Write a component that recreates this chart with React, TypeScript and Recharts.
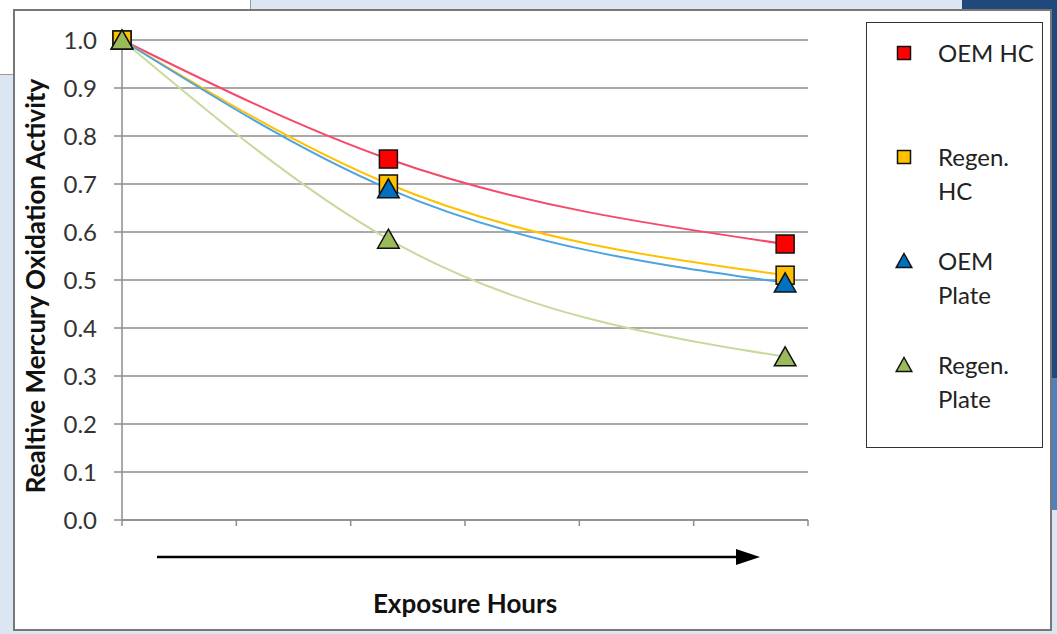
import React from 'react';
import { ComposedChart, Line, Scatter, XAxis, YAxis, CartesianGrid, Legend } from 'recharts';

// exposure hours (relative positions on the unlabeled axis)
const hours = [0, 2.33, 5.8];

const oemHc = [1.0, 0.752, 0.575];
const regenHc = [1.0, 0.7, 0.51];
const oemPlate = [1.0, 0.69, 0.494];
const regenPlate = [1.0, 0.585, 0.34];

const yTicks = [0, 0.1, 0.2, 0.3, 0.4, 0.5, 0.6, 0.7, 0.8, 0.9, 1.0];
const xTicks = [0, 1, 2, 3, 4, 5, 6];

const series = [
  { key: 'oemHc', name: 'OEM HC', fill: '#ff0000', line: '#f5496a', shape: 'square' },
  { key: 'regenHc', name: 'Regen. HC', fill: '#ffc000', line: '#ffc000', shape: 'square' },
  { key: 'oemPlate', name: 'OEM Plate', fill: '#0070c0', line: '#4ba3e3', shape: 'triangle' },
  { key: 'regenPlate', name: 'Regen. Plate', fill: '#9bbb59', line: '#c7da9e', shape: 'triangle' },
];

const data = hours.map((h, i) => ({
  hours: h,
  oemHc: oemHc[i],
  regenHc: regenHc[i],
  oemPlate: oemPlate[i],
  regenPlate: regenPlate[i],
}));

const FONT = 'Lato, "Open Sans", sans-serif';

function Marker({ cx, cy, fill, shape, size = 18 }: any) {
  if (cx == null || cy == null) return null;
  if (shape === 'square') {
    const h = size / 2;
    return <rect x={cx - h} y={cy - h} width={size} height={size} fill={fill} stroke="#111" strokeWidth={1.5} />;
  }
  const w = size * 1.2;
  const ht = size;
  return (
    <polygon
      points={`${cx},${cy - ht / 2 - 1} ${cx + w / 2},${cy + ht / 2} ${cx - w / 2},${cy + ht / 2}`}
      fill={fill}
      stroke="#111"
      strokeWidth={1.5}
      strokeLinejoin="miter"
    />
  );
}

function YLabel({ viewBox }: any) {
  const cx = viewBox.x - 27;
  const cy = viewBox.y + viewBox.height / 2 + 6;
  return (
    <text
      x={cx}
      y={cy}
      transform={`rotate(-90, ${cx}, ${cy})`}
      textAnchor="middle"
      dominantBaseline="central"
      fontFamily={FONT}
      fontWeight="bold"
      fontSize={26}
      fill="#111"
    >
      Realtive Mercury Oxidation Activity
    </text>
  );
}

function XLabel({ viewBox }: any) {
  const y0 = viewBox.y;
  const ay = y0 + 37;
  const x1 = viewBox.x + 35;
  const x2 = viewBox.x + 638;
  return (
    <g>
      <line x1={x1} y1={ay} x2={x2 - 20} y2={ay} stroke="#000" strokeWidth={2.5} />
      <polygon points={`${x2},${ay} ${x2 - 24},${ay - 8} ${x2 - 24},${ay + 8}`} fill="#000" />
      <text
        x={viewBox.x + viewBox.width / 2}
        y={y0 + 83}
        textAnchor="middle"
        dominantBaseline="central"
        fontFamily={FONT}
        fontWeight="bold"
        fontSize={26}
        fill="#111"
      >
        Exposure Hours
      </text>
    </g>
  );
}

function LegendBox() {
  return (
    <div
      style={{
        position: 'relative',
        width: 177,
        height: 426,
        boxSizing: 'border-box',
        border: '1.5px solid #333',
        background: '#fff',
        fontFamily: FONT,
        fontSize: 24,
        color: '#222',
      }}
    >
      {series.map((s, i) => (
        <div key={s.key} style={{ position: 'absolute', left: 0, top: 13 + i * 104, width: '100%' }}>
          <svg width={30} height={30} style={{ position: 'absolute', left: 22, top: 2 }}>
            <Marker cx={15} cy={15} fill={s.fill} shape={s.shape} size={13} />
          </svg>
          <div style={{ position: 'absolute', left: 71, top: 0, width: 100, lineHeight: '34px' }}>{s.name}</div>
        </div>
      ))}
    </div>
  );
}

export default function App() {
  return (
    <div
      style={{
        position: 'fixed',
        left: 0,
        top: 0,
        width: 1057,
        height: 634,
        background: '#dce6f2',
        overflow: 'hidden',
      }}
    >
      <div style={{ position: 'absolute', left: 962, top: 0, width: 95, height: 10, background: '#1f497d' }} />
      <div style={{ position: 'absolute', left: 1050, top: 0, width: 7, height: 378, background: '#1f497d' }} />
      <div style={{ position: 'absolute', left: 1050, top: 378, width: 7, height: 132, background: '#4f81bd' }} />
      <div
        style={{
          position: 'absolute',
          left: 0,
          top: 0,
          width: 250,
          height: 74,
          background: '#fff',
          borderRight: '1.5px solid #9a9a9a',
          borderBottom: '1.5px solid #9a9a9a',
        }}
      />
      <div
        style={{
          position: 'absolute',
          left: 13,
          top: 9,
          width: 1039,
          height: 622,
          boxSizing: 'border-box',
          background: '#fff',
          border: '2px solid #777',
        }}
      />
      <div style={{ position: 'absolute', left: 13, top: 10 }}>
        <ComposedChart width={1039} height={620} data={data} margin={{ top: 30, right: 244, bottom: 10, left: 49 }}>
          <CartesianGrid vertical={false} stroke="#8c8c8c" strokeWidth={1.5} />
          <XAxis
            dataKey="hours"
            type="number"
            domain={[0, 6]}
            ticks={xTicks}
            tickFormatter={() => ''}
            tickSize={6}
            height={100}
            stroke="#8c8c8c"
            strokeWidth={1.5}
            label={<XLabel />}
          />
          <YAxis
            type="number"
            domain={[0, 1]}
            ticks={yTicks}
            tickFormatter={(v: number) => v.toFixed(1)}
            width={60}
            tickSize={8}
            tickMargin={17}
            stroke="#8c8c8c"
            strokeWidth={1.5}
            tick={{ fill: '#333', fontSize: 24, fontFamily: FONT }}
            label={<YLabel />}
          />
          {series.map((s) => (
            <Line
              key={`l-${s.key}`}
              type="monotone"
              dataKey={s.key}
              stroke={s.line}
              strokeWidth={2}
              dot={false}
              activeDot={false}
              legendType="none"
              isAnimationActive={false}
            />
          ))}
          {series.map((s) => (
            <Scatter
              key={`s-${s.key}`}
              name={s.name}
              dataKey={s.key}
              fill={s.fill}
              shape={(p: any) => <Marker cx={p.cx} cy={p.cy} fill={s.fill} shape={s.shape} size={18} />}
              isAnimationActive={false}
            />
          ))}
          <Legend
            layout="vertical"
            align="center"
            verticalAlign="middle"
            content={() => <LegendBox />}
            wrapperStyle={{ position: 'absolute', left: 853, top: 12, width: 177, height: 426 }}
          />
        </ComposedChart>
      </div>
    </div>
  );
}
